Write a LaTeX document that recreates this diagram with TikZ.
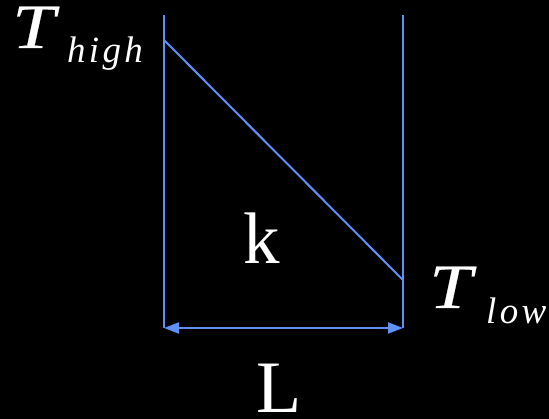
\documentclass[tikz,border=0pt]{standalone}
\usepackage{fontspec}
\setmainfont{Liberation Serif}
\usetikzlibrary{arrows.meta}
\definecolor{lineblue}{RGB}{95,145,245}
\newcommand{\wideT}{\scalebox{1.22}[1]{T}}
\begin{document}
\begin{tikzpicture}[x=1pt,y=-1pt,
  wire/.style={draw=lineblue,line width=2pt},
  lbl/.style={text=white,inner sep=0pt,anchor=base,text height=0.7em,text depth=0pt},
  bigT/.style={lbl,anchor=base west,font=\fontsize{63}{63}\selectfont\itshape\addfontfeatures{FakeBold=0.3}},
  subs/.style={lbl,anchor=base west,font=\fontsize{37}{37}\selectfont\itshape\addfontfeatures{LetterSpace=9}}]
\fill[black] (0,0) rectangle (549,419);
\useasboundingbox (0,0) rectangle (549,419);
\coordinate (tl) at (164,15);
\coordinate (bl) at (164,328);
\coordinate (tr) at (403,15);
\coordinate (br) at (403,328);
\coordinate (ds) at (164,40);
\coordinate (de) at (403,280);
\draw[wire] (tl) -- (bl);
\draw[wire] (tr) -- (br);
\draw[wire] (ds) -- (de);
\draw[wire,{Triangle[length=15pt,width=11pt]}-{Triangle[length=15pt,width=11pt]}] (bl) -- (br);
\node[bigT] (th) at (12,48) {\wideT};
\node[subs] (thsub) at (67,63) {high};
\node[bigT] (tl2) at (429,308) {\wideT};
\node[subs] (tlsub) at (486,324) {low};
\node[lbl,font=\fontsize{73}{73}\selectfont] (k) at (262,264) {k};
\node[lbl,font=\fontsize{74}{74}\selectfont] (L) at (279,413) {L};
\end{tikzpicture}
\end{document}
